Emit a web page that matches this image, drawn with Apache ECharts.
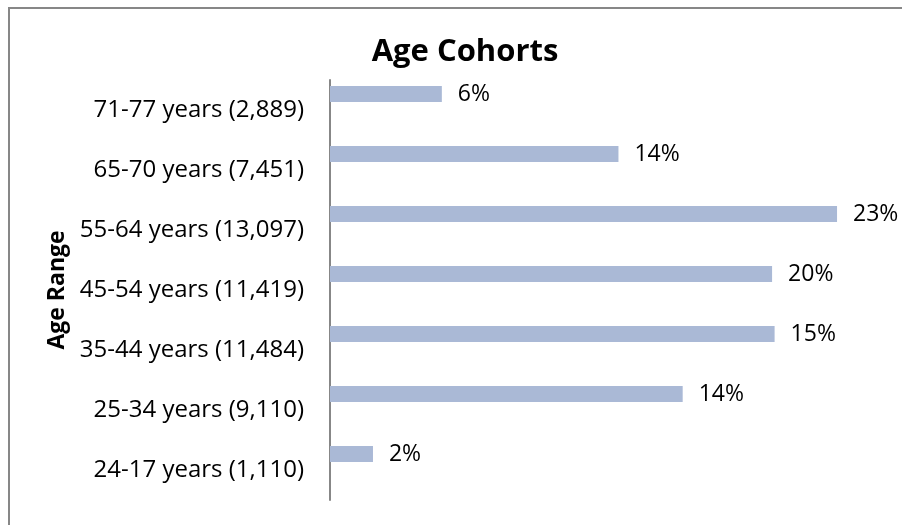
<!DOCTYPE html>
<html>
<head>
<meta charset="utf-8">
<script src="https://cdn.jsdelivr.net/npm/echarts@6/dist/echarts.min.js"></script>
<style>
  html, body { margin: 0; padding: 0; background: #fff; }
  #chart { width: 902px; height: 525px; }
</style>
</head>
<body>
<div id="chart"></div>
<script>
// categories, top to bottom
const categories = [
  '71-77 years (2,889)',
  '65-70 years (7,451)',
  '55-64 years (13,097)',
  '45-54 years (11,419)',
  '35-44 years (11,484)',
  '25-34 years (9,110)',
  '24-17 years (1,110)',
]
// bar lengths follow the head counts
const counts = [2889, 7451, 13097, 11419, 11484, 9110, 1110]
// labels shown at the bar ends
const percents = ['6%', '14%', '23%', '20%', '15%', '14%', '2%']

const font = 'Open Sans'

const chart = echarts.init(document.getElementById('chart'))

chart.setOption({
  backgroundColor: '#fff',
  animation: false,
  title: {
    text: 'Age Cohorts',
    left: 460,
    top: 32,
    textAlign: 'center',
    textStyle: {
      fontFamily: font,
      fontWeight: 'bold',
      fontSize: 31,
      color: '#000',
    },
  },
  graphic: [
    {
      // chart frame, only top and left edges are inside the picture
      type: 'polyline',
      shape: { points: [[9, 530], [9, 8], [910, 8]] },
      style: { fill: 'none', stroke: '#878787', lineWidth: 2 },
      silent: true,
    },
  ],
  grid: {
    left: 330,
    right: 30,
    top: 80,
    bottom: 25,
    containLabel: false,
  },
  xAxis: {
    type: 'value',
    min: 0,
    max: 14000,
    show: false,
  },
  yAxis: {
    type: 'category',
    inverse: true,
    data: categories,
    name: 'Age Range',
    nameLocation: 'middle',
    nameGap: 258,
    nameRotate: 90,
    nameTextStyle: {
      fontFamily: font,
      fontWeight: 'bold',
      fontSize: 23,
      color: '#000',
    },
    axisLine: {
      show: true,
      lineStyle: { color: '#878787', width: 2 },
    },
    axisTick: { show: false },
    splitLine: { show: false },
    axisLabel: {
      margin: 26,
      fontFamily: font,
      fontSize: 24,
      color: '#000',
      padding: [4, 0, 0, 0],
    },
  },
  series: [
    {
      name: 'Cohort',
      type: 'bar',
      barWidth: 16,
      barGap: '100%',
      data: counts,
      itemStyle: { color: '#aab9d6' },
      label: {
        show: true,
        position: 'right',
        distance: 16,
        fontFamily: font,
        fontSize: 23,
        color: '#000',
        formatter(p) {
          return percents[p.dataIndex]
        },
      },
    },
    {
      name: 'spacer',
      type: 'bar',
      barWidth: 16,
      data: [],
    },
  ],
})
</script>
</body>
</html>
